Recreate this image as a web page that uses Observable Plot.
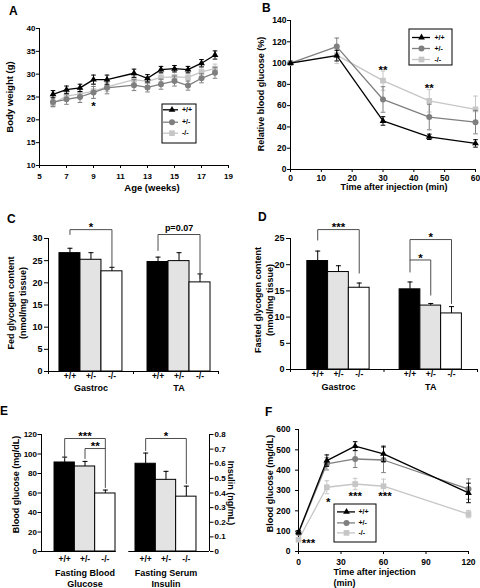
<!DOCTYPE html>
<html>
<head>
<meta charset="utf-8">
<script src="https://cdn.jsdelivr.net/npm/d3@7"></script>
<script src="https://cdn.jsdelivr.net/npm/@observablehq/plot@0.6"></script>
<style>
  html, body { margin: 0; padding: 0; background: #fff; }
  #figure { position: relative; width: 480px; height: 588px; overflow: hidden; font-family: "Liberation Sans", Arial, sans-serif; }
  .panel { position: absolute; }
  .panel svg { display: block; }
  .letter { position: absolute; font-size: 12px; font-weight: bold; line-height: 12px; color: #000; }
</style>
</head>
<body>
<div id="figure"></div>
<script>
// ---------------- data ----------------
const genotypes = ["+/+", "+/-", "-/-"];
const lineColors = ["#000000", "#7f7f7f", "#c6c6c6"];
const barFills = ["#000000", "#e3e3e3", "#ffffff"];
const markerSymbols = ["triangle", "circle", "square"];

// A: body weight
const ageWeeks = [6, 7, 8, 9, 10, 12, 13, 14, 15, 16, 17, 18];
const weightWT = [25.6, 26.6, 27.0, 28.8, 28.8, 30.2, 29.1, 31.0, 31.2, 31.0, 32.4, 34.2];
const weightWTErr = [0.8, 0.8, 0.8, 1.0, 1.0, 0.9, 0.8, 0.7, 0.7, 0.7, 0.8, 0.9];
const weightHet = [23.9, 24.5, 25.0, 26.0, 27.0, 27.6, 27.1, 27.8, 28.5, 27.5, 29.1, 30.3];
const weightHetErr = [1.0, 1.1, 1.2, 1.3, 1.3, 1.2, 1.0, 1.1, 1.1, 1.0, 1.0, 1.2];
const weightKO = [23.6, 25.2, 25.7, 26.3, 27.2, 28.8, 28.4, 29.3, 29.4, 29.3, 30.5, 31.2];
const weightKOErr = [0.8, 0.9, 0.9, 1.6, 1.0, 1.0, 1.0, 0.9, 1.0, 0.8, 0.9, 1.0];
const ageTicks = [5, 7, 9, 11, 13, 15, 17, 19];
const weightTicks = [10, 15, 20, 25, 30, 35, 40];
const weightStars = [{ x: 9, y: 23.6, label: "*" }];

// B: insulin tolerance (relative glucose)
const ittMinutes = [0, 15, 30, 45, 60];
const ittWT = [100, 107, 45.6, 30.7, 24.5];
const ittWTErr = [0, 5, 4, 2.5, 3.5];
const ittHet = [100, 115.5, 65.8, 49.3, 44.5];
const ittHetErr = [0, 8, 12, 12, 11];
const ittKO = [100, 107.5, 83.5, 64.5, 56.5];
const ittKOErr = [0, 8, 9, 10.5, 12.5];
const ittTicksX = [0, 10, 20, 30, 40, 50, 60];
const ittTicksY = [0, 20, 40, 60, 80, 100, 120, 140];
const ittStars = [{ x: 30, y: 96, label: "**" }, { x: 45, y: 79, label: "**" }];

// C: fed glycogen
const tissues = ["Gastroc", "TA"];
const fedGastroc = [26.7, 25.2, 22.6];
const fedGastrocErr = [1.1, 1.6, 0.9];
const fedTA = [24.7, 24.9, 20.1];
const fedTAErr = [1.1, 1.9, 1.9];
const fedTicks = [0, 5, 10, 15, 20, 25, 30];
const fedBrackets = [
  { group: 0, from: 0, to: 2, top: 32.0, leftEnd: 30.9, rightEnd: 23.5, label: "*" },
  { group: 1, from: 0, to: 2, top: 30.9, leftEnd: 27.3, rightEnd: 21.0, label: "p=0.07" }
];

// D: fasted glycogen
const fastedGastroc = [20.7, 18.6, 15.6];
const fastedGastrocErr = [1.9, 1.2, 0.9];
const fastedTA = [15.3, 12.2, 10.7];
const fastedTAErr = [1.4, 0.4, 1.3];
const fastedTicks = [0, 5, 10, 15, 20, 25];
const fastedBrackets = [
  { group: 0, from: 0, to: 2, top: 26.7, leftEnd: 24.7, rightEnd: 18.4, label: "***" },
  { group: 1, from: 0, to: 2, top: 24.8, leftEnd: 20.9, rightEnd: 12.6, label: "*" },
  { group: 1, from: 0, to: 1, top: 20.9, leftEnd: 18.6, rightEnd: 14.2, label: "*" }
];

// E: fasting glucose / insulin
const fastingMeasures = ["Fasting Blood\nGlucose", "Fasting Serum\nInsulin"];
const fastingGlucose = [91.3, 87.2, 59.5];
const fastingGlucoseErr = [5.5, 5.2, 3.5];
const fastingInsulin = [0.60, 0.49, 0.375];
const fastingInsulinErr = [0.073, 0.058, 0.072];
const glucoseTicks = [0, 20, 40, 60, 80, 100, 120];
const insulinTicks = [0, 0.1, 0.2, 0.3, 0.4, 0.5, 0.6, 0.7, 0.8];
const fastingBrackets = [
  { group: 0, from: 0, to: 2, top: 115.9, leftEnd: 95.4, rightEnd: 105.6, label: "***" },
  { group: 0, from: 1, to: 2, top: 105.6, leftEnd: 95.4, rightEnd: 65.6, label: "**" },
  { group: 1, from: 0, to: 2, top: 115.9, leftEnd: 103.6, rightEnd: 69.7, label: "*" }
];

// F: glucose tolerance
const gttMinutes = [0, 20, 40, 60, 120];
const gttWT = [94, 447, 518, 480, 288];
const gttWTErr = [8, 28, 22, 38, 48];
const gttHet = [92, 431, 455, 450, 307];
const gttHetErr = [10, 30, 42, 62, 50];
const gttKO = [58, 316, 332, 321, 184];
const gttKOErr = [10, 32, 28, 35, 18];
const gttTicksX = [0, 30, 60, 90, 120];
const gttTicksY = [0, 100, 200, 300, 400, 500, 600];
const gttStars = [
  { x: 7, y: 54, label: "***" },
  { x: 21, y: 259, label: "*" },
  { x: 40, y: 284, label: "***" },
  { x: 61, y: 284, label: "***" }
];

// ---------------- helpers ----------------
const FONT = '"Liberation Sans", Arial, Helvetica, sans-serif';
const cap = { draw(ctx, size) { const w = Math.sqrt(size / Math.PI); ctx.moveTo(-w, 0); ctx.lineTo(w, 0); } };
const STAR_FONT = 11.5;
const STAR_SHIFT = 0.26 * STAR_FONT;
const MARKER_R = [2.5, 3, 3.2];

function svgStyle(size) {
  return { fontFamily: FONT, fontSize: `${size}px`, fontWeight: "bold", color: "#000", background: "transparent", overflow: "visible" };
}
function mount(node, left, top) {
  const div = document.createElement("div");
  div.className = "panel";
  div.style.left = left + "px";
  div.style.top = top + "px";
  div.appendChild(node);
  document.getElementById("figure").appendChild(div);
}
function letter(t, left, top) {
  const div = document.createElement("div");
  div.className = "letter";
  div.textContent = t;
  div.style.left = left + "px";
  div.style.top = top + "px";
  document.getElementById("figure").appendChild(div);
}
function seriesMarks(xs, ys, errs, gi) {
  const rows = xs.map((x, i) => ({ x, y: ys[i], e: errs[i] }));
  const withErr = rows.filter(d => d.e > 0);
  const c = lineColors[gi];
  return [
    Plot.ruleX(withErr, { x: "x", y1: d => d.y - d.e, y2: d => d.y + d.e, stroke: c, strokeWidth: 1 }),
    Plot.dot(withErr, { x: "x", y: d => d.y + d.e, symbol: cap, r: 2.3, fill: "none", stroke: c, strokeWidth: 1 }),
    Plot.dot(withErr, { x: "x", y: d => d.y - d.e, symbol: cap, r: 2.3, fill: "none", stroke: c, strokeWidth: 1 }),
    Plot.line(rows, { x: "x", y: "y", stroke: c, strokeWidth: 1.3 }),
    Plot.dot(rows, { x: "x", y: "y", symbol: markerSymbols[gi], r: MARKER_R[gi], fill: c, stroke: "none" })
  ];
}
function starText(data) {
  return Plot.text(data, { x: "x", y: "y", text: "label", fontSize: STAR_FONT, dy: STAR_SHIFT });
}
function legend({ w, h, rows, lineX, dotX, textX, fontSize }) {
  const marks = [Plot.frame({ stroke: "#000", strokeWidth: 1, inset: 0.5 })];
  genotypes.forEach((g, i) => {
    marks.push(
      Plot.ruleY([g], { y: rows[i], x1: lineX[0], x2: lineX[1], stroke: lineColors[i], strokeWidth: 1.3 }),
      Plot.dot([g], { x: dotX, y: rows[i], symbol: markerSymbols[i], r: MARKER_R[i], fill: lineColors[i], stroke: "none" }),
      Plot.text([g], { x: textX, y: rows[i], text: d => d, textAnchor: "start", fontSize })
    );
  });
  return Plot.plot({
    width: w, height: h, margin: 0,
    x: { domain: [0, w], range: [0, w], axis: null },
    y: { domain: [0, h], range: [0, h], axis: null },
    style: svgStyle(fontSize), marks
  });
}
function barRows(groupVals, groupErrs, offsets, bw, factors) {
  const rows = [];
  groupVals.forEach((vals, gi) => vals.forEach((v, k) => {
    const x1 = gi + offsets[gi] + k * bw;
    rows.push({ gi, k, g: genotypes[k], x1, x2: x1 + bw, xc: x1 + bw / 2, v: v * factors[gi], e: groupErrs[gi][k] * factors[gi] });
  }));
  return rows;
}
function barMarks(rows) {
  const m = [];
  genotypes.forEach((g, k) => {
    m.push(Plot.rect(rows.filter(r => r.k === k), { x1: "x1", x2: "x2", y1: 0, y2: "v", fill: barFills[k], stroke: "#000", strokeWidth: 1 }));
  });
  m.push(Plot.ruleX(rows, { x: "xc", y1: "v", y2: d => d.v + d.e, stroke: "#000", strokeWidth: 1 }));
  m.push(Plot.dot(rows, { x: "xc", y: d => d.v + d.e, symbol: cap, r: 2.5, fill: "none", stroke: "#000", strokeWidth: 1 }));
  return m;
}
function groupCenters(rows, labels) {
  return labels.map((label, gi) => ({ label, x: d3.mean(rows.filter(r => r.gi === gi), r => r.xc) }));
}
function bracketMarks(rows, brackets) {
  const xc = (gi, k) => rows.find(r => r.gi === gi && r.k === k).xc;
  const pts = brackets.flatMap((b, i) => {
    const xa = xc(b.group, b.from), xb = xc(b.group, b.to);
    return [{ i, x: xa, y: b.leftEnd }, { i, x: xa, y: b.top }, { i, x: xb, y: b.top }, { i, x: xb, y: b.rightEnd }];
  });
  const labels = brackets.map(b => ({ x: (xc(b.group, b.from) + xc(b.group, b.to)) / 2, y: b.top, label: b.label }));
  const isStar = d => /^\*+$/.test(d.label);
  return [
    Plot.line(pts, { x: "x", y: "y", z: "i", stroke: "#4d4d4d", strokeWidth: 1 }),
    Plot.text(labels.filter(isStar), { x: "x", y: "y", text: "label", fontSize: STAR_FONT, dy: STAR_SHIFT - 5 }),
    Plot.text(labels.filter(d => !isStar(d)), { x: "x", y: "y", text: "label", fontSize: 9, dy: -6 })
  ];
}

// ---------------- Panel A ----------------
mount(Plot.plot({
  width: 240, height: 198, marginLeft: 39, marginRight: 12, marginTop: 28, marginBottom: 33,
  style: svgStyle(8),
  x: { domain: [5, 19] }, y: { domain: [10, 40] },
  marks: [
    Plot.ruleX([5]), Plot.ruleY([10]),
    Plot.axisX({ ticks: ageTicks, tickSize: 3, tickPadding: 5, label: null }),
    Plot.axisY({ ticks: weightTicks, tickSize: 3, tickPadding: 1, label: null }),
    ...seriesMarks(ageWeeks, weightKO, weightKOErr, 2),
    ...seriesMarks(ageWeeks, weightHet, weightHetErr, 1),
    ...seriesMarks(ageWeeks, weightWT, weightWTErr, 0),
    starText(weightStars),
    Plot.text(["Age (weeks)"], { text: d => d, frameAnchor: "bottom", dx: 18, dy: 25, fontSize: 9.5 }),
    Plot.text(["Body weight (g)"], { text: d => d, frameAnchor: "left", rotate: -90, textAnchor: "middle", dx: -30, fontSize: 9.5 })
  ]
}), 0, 0);
mount(legend({ w: 35, h: 40, rows: [6.3, 18.7, 29.7], lineX: [2, 17], dotX: 10.5, textX: 20.5, fontSize: 7 }), 161, 103);

// ---------------- Panel B ----------------
mount(Plot.plot({
  width: 240, height: 198, marginLeft: 50, marginRight: 5, marginTop: 20, marginBottom: 29,
  style: svgStyle(8.5),
  x: { domain: [0, 60] }, y: { domain: [0, 140] },
  marks: [
    Plot.ruleX([0]), Plot.ruleY([0]),
    Plot.axisX({ ticks: ittTicksX, tickSize: 3, tickPadding: 2, label: null }),
    Plot.axisY({ ticks: ittTicksY, tickSize: 3, tickPadding: 1, label: null }),
    ...seriesMarks(ittMinutes, ittKO, ittKOErr, 2),
    ...seriesMarks(ittMinutes, ittHet, ittHetErr, 1),
    ...seriesMarks(ittMinutes, ittWT, ittWTErr, 0),
    starText(ittStars),
    Plot.text(["Time after injection (min)"], { text: d => d, frameAnchor: "bottom", dx: 11, dy: 20.5, fontSize: 9 }),
    Plot.text(["Relative blood glucose (%)"], { text: d => d, frameAnchor: "left", rotate: -90, textAnchor: "middle", dx: -29, dy: -1, fontSize: 9 })
  ]
}), 240, 0);
mount(legend({ w: 44, h: 37, rows: [9, 20, 31], lineX: [4, 22], dotX: 13, textX: 26, fontSize: 7 }), 408, 28);

// ---------------- Panel C ----------------
const rowsC = barRows([fedGastroc, fedTA], [fedGastrocErr, fedTAErr], [0.129, 0.165], 0.247, [1, 1]);
mount(Plot.plot({
  width: 240, height: 197, marginLeft: 48, marginRight: 22, marginTop: 40, marginBottom: 24,
  style: svgStyle(9),
  x: { domain: [0, tissues.length] }, y: { domain: [0, 30] },
  marks: [
    ...barMarks(rowsC),
    Plot.ruleX([0]), Plot.ruleY([0]),
    Plot.axisY({ ticks: fedTicks, tickSize: 4, tickPadding: 2, label: null }),
    Plot.axisX({ ticks: d3.range(tissues.length + 1), tickSize: 3, tickFormat: () => "", label: null }),
    Plot.text(rowsC, { x: "xc", y: 0, text: "g", dy: 5, fontSize: 8.5 }),
    Plot.text(groupCenters(rowsC, tissues), { x: "x", y: 0, text: "label", dy: 17, fontSize: 9 }),
    ...bracketMarks(rowsC, fedBrackets),
    Plot.text(["Fed glycogen content\n(nmol/mg tissue)"], { text: d => d, frameAnchor: "left", rotate: -90, textAnchor: "middle", dx: -32, dy: -2, lineHeight: 1.33, fontSize: 9 })
  ]
}), 0, 198);

// ---------------- Panel D ----------------
const rowsD = barRows([fastedGastroc, fastedTA], [fastedGastrocErr, fastedTAErr], [0.18, 0.167], 0.222, [1, 1]);
mount(Plot.plot({
  width: 240, height: 197, marginLeft: 50, marginRight: 3, marginTop: 40, marginBottom: 26,
  style: svgStyle(9),
  x: { domain: [0, tissues.length] }, y: { domain: [0, 25] },
  marks: [
    ...barMarks(rowsD),
    Plot.ruleX([0]), Plot.ruleY([0]),
    Plot.axisY({ ticks: fastedTicks, tickSize: 4, tickPadding: 2, label: null }),
    Plot.axisX({ ticks: d3.range(tissues.length + 1), tickSize: 3, tickFormat: () => "", label: null }),
    Plot.text(rowsD, { x: "xc", y: 0, text: "g", dy: 5, fontSize: 8.5 }),
    Plot.text(groupCenters(rowsD, tissues), { x: "x", y: 0, text: "label", dy: 18, fontSize: 9 }),
    ...bracketMarks(rowsD, fastedBrackets),
    Plot.text(["Fasted glycogen content\n(nmol/mg tissue)"], { text: d => d, frameAnchor: "left", rotate: -90, textAnchor: "middle", dx: -27, dy: -4, lineHeight: 1.33, fontSize: 9 })
  ]
}), 240, 198);

// ---------------- Panel E ----------------
const insulinToGlucose = d3.max(glucoseTicks) / d3.max(insulinTicks);
const rowsE = barRows([fastingGlucose, fastingInsulin], [fastingGlucoseErr, fastingInsulinErr], [0.155, 0.119], 0.242, [1, insulinToGlucose]);
const baseE = [0, 1].map(gi => {
  const r = rowsE.filter(d => d.gi === gi);
  return { x1: gi === 0 ? 0 : r[0].x1 - 0.08, x2: gi === 0 ? r[2].x2 + 0.01 : fastingMeasures.length };
});
mount(Plot.plot({
  width: 240, height: 193, marginLeft: 41, marginRight: 31, marginTop: 39, marginBottom: 37,
  style: svgStyle(8),
  x: { domain: [0, fastingMeasures.length], axis: null }, y: { domain: [0, d3.max(glucoseTicks)] },
  marks: [
    ...barMarks(rowsE),
    Plot.ruleX([0, fastingMeasures.length]),
    Plot.ruleY(baseE, { y: 0, x1: "x1", x2: "x2" }),
    Plot.axisY({ ticks: glucoseTicks, tickSize: 3.5, tickPadding: 1, label: null }),
    Plot.axisY({ anchor: "right", ticks: insulinTicks.map(t => t * insulinToGlucose), tickFormat: d => d === 0 ? "0" : (d / insulinToGlucose).toFixed(1), tickSize: 3.5, tickPadding: 1.5, label: null }),
    Plot.text(rowsE, { x: "xc", y: 0, text: "g", dy: 8, fontSize: 8.5 }),
    Plot.text(groupCenters(rowsE, fastingMeasures), { x: "x", y: 0, text: "label", dy: 17, lineAnchor: "top", lineHeight: 1.22, fontSize: 9 }),
    ...bracketMarks(rowsE, fastingBrackets),
    Plot.text(["Blood glucose (mg/dL)"], { text: d => d, frameAnchor: "left", rotate: -90, textAnchor: "middle", dx: -25, dy: -8.5, fontSize: 9 }),
    Plot.text(["Insulin (ng/mL)"], { text: d => d, frameAnchor: "right", rotate: 90, textAnchor: "middle", dx: 21, fontSize: 9 })
  ]
}), 0, 395);

// ---------------- Panel F ----------------
mount(Plot.plot({
  width: 240, height: 193, marginLeft: 58, marginRight: 12, marginTop: 34, marginBottom: 37,
  style: svgStyle(8.5),
  x: { domain: [0, 120] }, y: { domain: [0, 600] },
  marks: [
    Plot.ruleX([0]), Plot.ruleY([0]),
    Plot.axisX({ ticks: gttTicksX, tickSize: 3, tickPadding: 4, label: null }),
    Plot.axisY({ ticks: gttTicksY, tickSize: 3, tickPadding: 5, label: null }),
    ...seriesMarks(gttMinutes, gttKO, gttKOErr, 2),
    ...seriesMarks(gttMinutes, gttHet, gttHetErr, 1),
    ...seriesMarks(gttMinutes, gttWT, gttWTErr, 0),
    starText(gttStars),
    Plot.text(["Time after injection\n(min)"], { text: d => d, frameAnchor: "bottom-left", dx: 35, dy: 15, textAnchor: "start", lineAnchor: "top", lineHeight: 1.25, fontSize: 9 }),
    Plot.text(["Blood glucose (mg/dL)"], { text: d => d, frameAnchor: "left", rotate: -90, textAnchor: "middle", dx: -28, dy: -7, fontSize: 9 })
  ]
}), 240, 395);
mount(legend({ w: 43, h: 39, rows: [8.4, 19.4, 29.4], lineX: [4, 22], dotX: 13, textX: 25, fontSize: 7 }), 333, 503);

// ---------------- panel letters ----------------
letter("A", 9, 5.4);
letter("B", 262, 1.7);
letter("C", 7, 213.4);
letter("D", 258, 211.4);
letter("E", 0, 405.4);
letter("F", 265, 406.4);
</script>
</body>
</html>
